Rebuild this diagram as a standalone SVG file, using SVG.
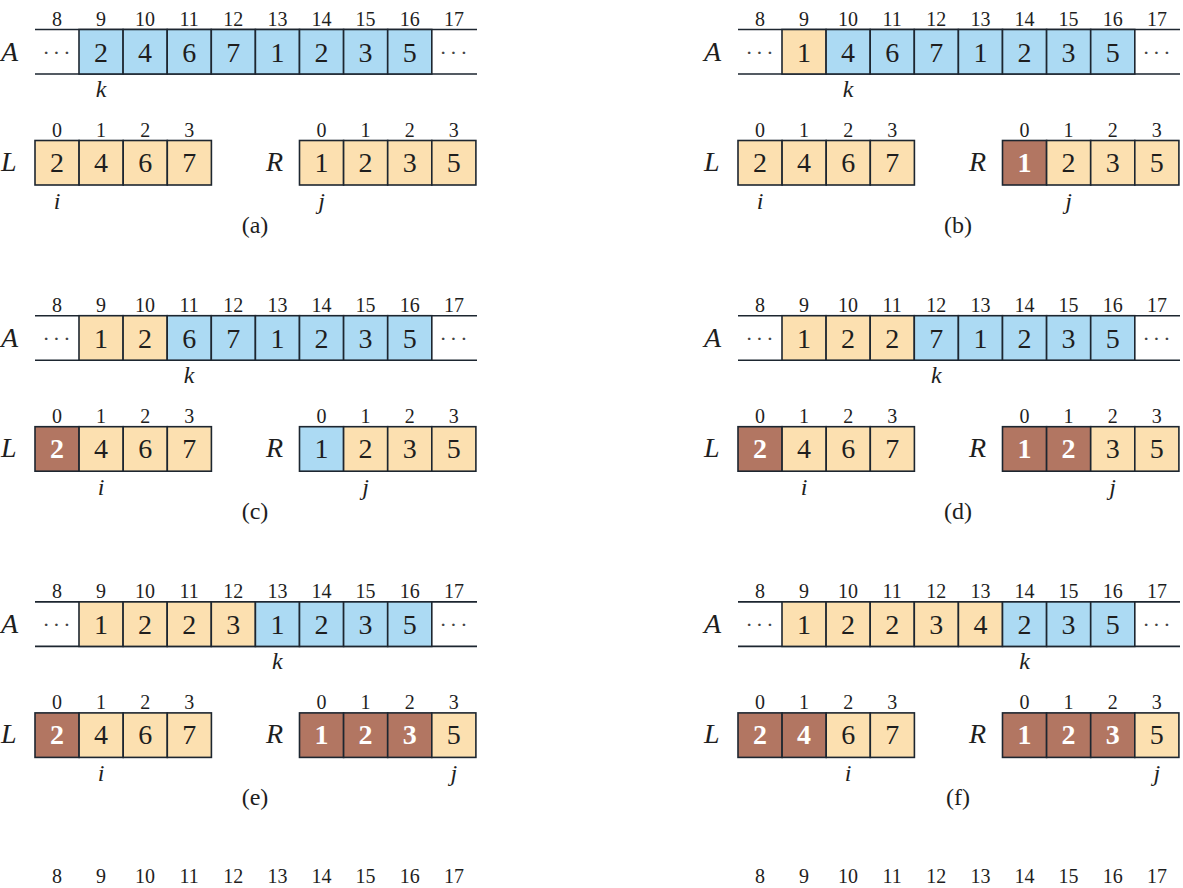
<svg xmlns="http://www.w3.org/2000/svg" width="1183" height="888" viewBox="0 0 1183 888">
<style>
.bg{fill:#ffffff}
.ln{stroke:#1d2630;stroke-width:1.6;fill:none}
.bl{fill:#acdaf3;stroke:#1d2630;stroke-width:1.6}
.tn{fill:#fce0b0;stroke:#1d2630;stroke-width:1.6}
.br{fill:#b27662;stroke:#1d2630;stroke-width:1.6}
text{font-family:"Liberation Serif","Times New Roman",serif;fill:#1e1e1e}
.ix{font-size:20px;text-anchor:middle}
.v{font-size:28px;text-anchor:middle}
.w{font-size:28px;text-anchor:middle;fill:#ffffff;font-weight:bold}
.nm{font-size:28px;font-style:italic}
.p{font-size:24px;font-style:italic;text-anchor:middle}
.cap{font-size:24px;text-anchor:middle}
.dots{font-size:22px;text-anchor:middle;letter-spacing:3px;fill:#444}
</style>
<rect class="bg" x="0" y="0" width="1183" height="888"/>

<!-- panel (a) -->
<g id="panel-a">
<g id="a-A">
<text class="nm" x="1" y="61">A</text>
<text class="ix" y="25.5"><tspan x="57">8</tspan><tspan x="101">9</tspan><tspan x="145.1">10</tspan><tspan x="189.2">11</tspan><tspan x="233.3">12</tspan><tspan x="277.4">13</tspan><tspan x="321.5">14</tspan><tspan x="365.6">15</tspan><tspan x="409.7">16</tspan><tspan x="454">17</tspan></text>
<path class="ln" d="M35 29.5H477M35 74H477"/>
<rect class="bl" x="79" y="29.5" width="44.1" height="44.5"/><rect class="bl" x="123.1" y="29.5" width="44.1" height="44.5"/><rect class="bl" x="167.2" y="29.5" width="44.1" height="44.5"/><rect class="bl" x="211.3" y="29.5" width="44.1" height="44.5"/><rect class="bl" x="255.4" y="29.5" width="44.1" height="44.5"/><rect class="bl" x="299.5" y="29.5" width="44.1" height="44.5"/><rect class="bl" x="343.6" y="29.5" width="44.1" height="44.5"/><rect class="bl" x="387.7" y="29.5" width="44.1" height="44.5"/>
<text class="dots" x="58" y="60">···</text><text class="dots" x="455" y="60">···</text>
<text class="v" y="61.5"><tspan x="101">2</tspan><tspan x="145.1">4</tspan><tspan x="189.2">6</tspan><tspan x="233.3">7</tspan><tspan x="277.4">1</tspan><tspan x="321.5">2</tspan><tspan x="365.6">3</tspan><tspan x="409.7">5</tspan></text>
<text class="p" x="101" y="97">k</text>
</g>
<g id="a-L">
<text class="nm" x="1" y="171">L</text>
<text class="ix" y="136.5"><tspan x="57">0</tspan><tspan x="101.1">1</tspan><tspan x="145.2">2</tspan><tspan x="189.3">3</tspan></text>
<rect class="tn" x="35" y="140.5" width="44.1" height="44.5"/><rect class="tn" x="79.1" y="140.5" width="44.1" height="44.5"/><rect class="tn" x="123.2" y="140.5" width="44.1" height="44.5"/><rect class="tn" x="167.3" y="140.5" width="44.1" height="44.5"/>
<text class="v" y="172"><tspan x="57">2</tspan><tspan x="101.1">4</tspan><tspan x="145.2">6</tspan><tspan x="189.3">7</tspan></text>
<text class="p" x="57" y="209">i</text>
</g>
<g id="a-R">
<text class="nm" x="266" y="171">R</text>
<text class="ix" y="136.5"><tspan x="321.5">0</tspan><tspan x="365.6">1</tspan><tspan x="409.7">2</tspan><tspan x="453.8">3</tspan></text>
<rect class="tn" x="299.5" y="140.5" width="44.1" height="44.5"/><rect class="tn" x="343.6" y="140.5" width="44.1" height="44.5"/><rect class="tn" x="387.7" y="140.5" width="44.1" height="44.5"/><rect class="tn" x="431.8" y="140.5" width="44.1" height="44.5"/>
<text class="v" y="172"><tspan x="321.5">1</tspan><tspan x="365.6">2</tspan><tspan x="409.7">3</tspan><tspan x="453.8">5</tspan></text>
<text class="p" x="321.5" y="209">j</text>
</g>
<text class="cap" x="255" y="233">(a)</text>
</g>

<!-- panel (b) -->
<g id="panel-b" transform="translate(703,0)">
<g id="b-A">
<text class="nm" x="1" y="61">A</text>
<text class="ix" y="25.5"><tspan x="57">8</tspan><tspan x="101">9</tspan><tspan x="145.1">10</tspan><tspan x="189.2">11</tspan><tspan x="233.3">12</tspan><tspan x="277.4">13</tspan><tspan x="321.5">14</tspan><tspan x="365.6">15</tspan><tspan x="409.7">16</tspan><tspan x="454">17</tspan></text>
<path class="ln" d="M35 29.5H477M35 74H477"/>
<rect class="tn" x="79" y="29.5" width="44.1" height="44.5"/><rect class="bl" x="123.1" y="29.5" width="44.1" height="44.5"/><rect class="bl" x="167.2" y="29.5" width="44.1" height="44.5"/><rect class="bl" x="211.3" y="29.5" width="44.1" height="44.5"/><rect class="bl" x="255.4" y="29.5" width="44.1" height="44.5"/><rect class="bl" x="299.5" y="29.5" width="44.1" height="44.5"/><rect class="bl" x="343.6" y="29.5" width="44.1" height="44.5"/><rect class="bl" x="387.7" y="29.5" width="44.1" height="44.5"/>
<text class="dots" x="58" y="60">···</text><text class="dots" x="455" y="60">···</text>
<text class="v" y="61.5"><tspan x="101">1</tspan><tspan x="145.1">4</tspan><tspan x="189.2">6</tspan><tspan x="233.3">7</tspan><tspan x="277.4">1</tspan><tspan x="321.5">2</tspan><tspan x="365.6">3</tspan><tspan x="409.7">5</tspan></text>
<text class="p" x="145.1" y="97">k</text>
</g>
<g id="b-L">
<text class="nm" x="1" y="171">L</text>
<text class="ix" y="136.5"><tspan x="57">0</tspan><tspan x="101.1">1</tspan><tspan x="145.2">2</tspan><tspan x="189.3">3</tspan></text>
<rect class="tn" x="35" y="140.5" width="44.1" height="44.5"/><rect class="tn" x="79.1" y="140.5" width="44.1" height="44.5"/><rect class="tn" x="123.2" y="140.5" width="44.1" height="44.5"/><rect class="tn" x="167.3" y="140.5" width="44.1" height="44.5"/>
<text class="v" y="172"><tspan x="57">2</tspan><tspan x="101.1">4</tspan><tspan x="145.2">6</tspan><tspan x="189.3">7</tspan></text>
<text class="p" x="57" y="209">i</text>
</g>
<g id="b-R">
<text class="nm" x="266" y="171">R</text>
<text class="ix" y="136.5"><tspan x="321.5">0</tspan><tspan x="365.6">1</tspan><tspan x="409.7">2</tspan><tspan x="453.8">3</tspan></text>
<rect class="br" x="299.5" y="140.5" width="44.1" height="44.5"/><rect class="tn" x="343.6" y="140.5" width="44.1" height="44.5"/><rect class="tn" x="387.7" y="140.5" width="44.1" height="44.5"/><rect class="tn" x="431.8" y="140.5" width="44.1" height="44.5"/>
<text class="w" x="321.5" y="172">1</text>
<text class="v" y="172"><tspan x="365.6">2</tspan><tspan x="409.7">3</tspan><tspan x="453.8">5</tspan></text>
<text class="p" x="365.6" y="209">j</text>
</g>
<text class="cap" x="255" y="233">(b)</text>
</g>

<!-- panel (c) -->
<g id="panel-c" transform="translate(0,286.2)">
<g id="c-A">
<text class="nm" x="1" y="61">A</text>
<text class="ix" y="25.5"><tspan x="57">8</tspan><tspan x="101">9</tspan><tspan x="145.1">10</tspan><tspan x="189.2">11</tspan><tspan x="233.3">12</tspan><tspan x="277.4">13</tspan><tspan x="321.5">14</tspan><tspan x="365.6">15</tspan><tspan x="409.7">16</tspan><tspan x="454">17</tspan></text>
<path class="ln" d="M35 29.5H477M35 74H477"/>
<rect class="tn" x="79" y="29.5" width="44.1" height="44.5"/><rect class="tn" x="123.1" y="29.5" width="44.1" height="44.5"/><rect class="bl" x="167.2" y="29.5" width="44.1" height="44.5"/><rect class="bl" x="211.3" y="29.5" width="44.1" height="44.5"/><rect class="bl" x="255.4" y="29.5" width="44.1" height="44.5"/><rect class="bl" x="299.5" y="29.5" width="44.1" height="44.5"/><rect class="bl" x="343.6" y="29.5" width="44.1" height="44.5"/><rect class="bl" x="387.7" y="29.5" width="44.1" height="44.5"/>
<text class="dots" x="58" y="60">···</text><text class="dots" x="455" y="60">···</text>
<text class="v" y="61.5"><tspan x="101">1</tspan><tspan x="145.1">2</tspan><tspan x="189.2">6</tspan><tspan x="233.3">7</tspan><tspan x="277.4">1</tspan><tspan x="321.5">2</tspan><tspan x="365.6">3</tspan><tspan x="409.7">5</tspan></text>
<text class="p" x="189.2" y="97">k</text>
</g>
<g id="c-L">
<text class="nm" x="1" y="171">L</text>
<text class="ix" y="136.5"><tspan x="57">0</tspan><tspan x="101.1">1</tspan><tspan x="145.2">2</tspan><tspan x="189.3">3</tspan></text>
<rect class="br" x="35" y="140.5" width="44.1" height="44.5"/><rect class="tn" x="79.1" y="140.5" width="44.1" height="44.5"/><rect class="tn" x="123.2" y="140.5" width="44.1" height="44.5"/><rect class="tn" x="167.3" y="140.5" width="44.1" height="44.5"/>
<text class="w" x="57" y="172">2</text>
<text class="v" y="172"><tspan x="101.1">4</tspan><tspan x="145.2">6</tspan><tspan x="189.3">7</tspan></text>
<text class="p" x="101.1" y="209">i</text>
</g>
<g id="c-R">
<text class="nm" x="266" y="171">R</text>
<text class="ix" y="136.5"><tspan x="321.5">0</tspan><tspan x="365.6">1</tspan><tspan x="409.7">2</tspan><tspan x="453.8">3</tspan></text>
<rect class="bl" x="299.5" y="140.5" width="44.1" height="44.5"/><rect class="tn" x="343.6" y="140.5" width="44.1" height="44.5"/><rect class="tn" x="387.7" y="140.5" width="44.1" height="44.5"/><rect class="tn" x="431.8" y="140.5" width="44.1" height="44.5"/>
<text class="v" y="172"><tspan x="321.5">1</tspan><tspan x="365.6">2</tspan><tspan x="409.7">3</tspan><tspan x="453.8">5</tspan></text>
<text class="p" x="365.6" y="209">j</text>
</g>
<text class="cap" x="255" y="233">(c)</text>
</g>

<!-- panel (d) -->
<g id="panel-d" transform="translate(703,286.2)">
<g id="d-A">
<text class="nm" x="1" y="61">A</text>
<text class="ix" y="25.5"><tspan x="57">8</tspan><tspan x="101">9</tspan><tspan x="145.1">10</tspan><tspan x="189.2">11</tspan><tspan x="233.3">12</tspan><tspan x="277.4">13</tspan><tspan x="321.5">14</tspan><tspan x="365.6">15</tspan><tspan x="409.7">16</tspan><tspan x="454">17</tspan></text>
<path class="ln" d="M35 29.5H477M35 74H477"/>
<rect class="tn" x="79" y="29.5" width="44.1" height="44.5"/><rect class="tn" x="123.1" y="29.5" width="44.1" height="44.5"/><rect class="tn" x="167.2" y="29.5" width="44.1" height="44.5"/><rect class="bl" x="211.3" y="29.5" width="44.1" height="44.5"/><rect class="bl" x="255.4" y="29.5" width="44.1" height="44.5"/><rect class="bl" x="299.5" y="29.5" width="44.1" height="44.5"/><rect class="bl" x="343.6" y="29.5" width="44.1" height="44.5"/><rect class="bl" x="387.7" y="29.5" width="44.1" height="44.5"/>
<text class="dots" x="58" y="60">···</text><text class="dots" x="455" y="60">···</text>
<text class="v" y="61.5"><tspan x="101">1</tspan><tspan x="145.1">2</tspan><tspan x="189.2">2</tspan><tspan x="233.3">7</tspan><tspan x="277.4">1</tspan><tspan x="321.5">2</tspan><tspan x="365.6">3</tspan><tspan x="409.7">5</tspan></text>
<text class="p" x="233.3" y="97">k</text>
</g>
<g id="d-L">
<text class="nm" x="1" y="171">L</text>
<text class="ix" y="136.5"><tspan x="57">0</tspan><tspan x="101.1">1</tspan><tspan x="145.2">2</tspan><tspan x="189.3">3</tspan></text>
<rect class="br" x="35" y="140.5" width="44.1" height="44.5"/><rect class="tn" x="79.1" y="140.5" width="44.1" height="44.5"/><rect class="tn" x="123.2" y="140.5" width="44.1" height="44.5"/><rect class="tn" x="167.3" y="140.5" width="44.1" height="44.5"/>
<text class="w" x="57" y="172">2</text>
<text class="v" y="172"><tspan x="101.1">4</tspan><tspan x="145.2">6</tspan><tspan x="189.3">7</tspan></text>
<text class="p" x="101.1" y="209">i</text>
</g>
<g id="d-R">
<text class="nm" x="266" y="171">R</text>
<text class="ix" y="136.5"><tspan x="321.5">0</tspan><tspan x="365.6">1</tspan><tspan x="409.7">2</tspan><tspan x="453.8">3</tspan></text>
<rect class="br" x="299.5" y="140.5" width="44.1" height="44.5"/><rect class="br" x="343.6" y="140.5" width="44.1" height="44.5"/><rect class="tn" x="387.7" y="140.5" width="44.1" height="44.5"/><rect class="tn" x="431.8" y="140.5" width="44.1" height="44.5"/>
<text class="w" y="172"><tspan x="321.5">1</tspan><tspan x="365.6">2</tspan></text>
<text class="v" y="172"><tspan x="409.7">3</tspan><tspan x="453.8">5</tspan></text>
<text class="p" x="409.7" y="209">j</text>
</g>
<text class="cap" x="255" y="233">(d)</text>
</g>

<!-- panel (e) -->
<g id="panel-e" transform="translate(0,572.4)">
<g id="e-A">
<text class="nm" x="1" y="61">A</text>
<text class="ix" y="25.5"><tspan x="57">8</tspan><tspan x="101">9</tspan><tspan x="145.1">10</tspan><tspan x="189.2">11</tspan><tspan x="233.3">12</tspan><tspan x="277.4">13</tspan><tspan x="321.5">14</tspan><tspan x="365.6">15</tspan><tspan x="409.7">16</tspan><tspan x="454">17</tspan></text>
<path class="ln" d="M35 29.5H477M35 74H477"/>
<rect class="tn" x="79" y="29.5" width="44.1" height="44.5"/><rect class="tn" x="123.1" y="29.5" width="44.1" height="44.5"/><rect class="tn" x="167.2" y="29.5" width="44.1" height="44.5"/><rect class="tn" x="211.3" y="29.5" width="44.1" height="44.5"/><rect class="bl" x="255.4" y="29.5" width="44.1" height="44.5"/><rect class="bl" x="299.5" y="29.5" width="44.1" height="44.5"/><rect class="bl" x="343.6" y="29.5" width="44.1" height="44.5"/><rect class="bl" x="387.7" y="29.5" width="44.1" height="44.5"/>
<text class="dots" x="58" y="60">···</text><text class="dots" x="455" y="60">···</text>
<text class="v" y="61.5"><tspan x="101">1</tspan><tspan x="145.1">2</tspan><tspan x="189.2">2</tspan><tspan x="233.3">3</tspan><tspan x="277.4">1</tspan><tspan x="321.5">2</tspan><tspan x="365.6">3</tspan><tspan x="409.7">5</tspan></text>
<text class="p" x="277.4" y="97">k</text>
</g>
<g id="e-L">
<text class="nm" x="1" y="171">L</text>
<text class="ix" y="136.5"><tspan x="57">0</tspan><tspan x="101.1">1</tspan><tspan x="145.2">2</tspan><tspan x="189.3">3</tspan></text>
<rect class="br" x="35" y="140.5" width="44.1" height="44.5"/><rect class="tn" x="79.1" y="140.5" width="44.1" height="44.5"/><rect class="tn" x="123.2" y="140.5" width="44.1" height="44.5"/><rect class="tn" x="167.3" y="140.5" width="44.1" height="44.5"/>
<text class="w" x="57" y="172">2</text>
<text class="v" y="172"><tspan x="101.1">4</tspan><tspan x="145.2">6</tspan><tspan x="189.3">7</tspan></text>
<text class="p" x="101.1" y="209">i</text>
</g>
<g id="e-R">
<text class="nm" x="266" y="171">R</text>
<text class="ix" y="136.5"><tspan x="321.5">0</tspan><tspan x="365.6">1</tspan><tspan x="409.7">2</tspan><tspan x="453.8">3</tspan></text>
<rect class="br" x="299.5" y="140.5" width="44.1" height="44.5"/><rect class="br" x="343.6" y="140.5" width="44.1" height="44.5"/><rect class="br" x="387.7" y="140.5" width="44.1" height="44.5"/><rect class="tn" x="431.8" y="140.5" width="44.1" height="44.5"/>
<text class="w" y="172"><tspan x="321.5">1</tspan><tspan x="365.6">2</tspan><tspan x="409.7">3</tspan></text>
<text class="v" x="453.8" y="172">5</text>
<text class="p" x="453.8" y="209">j</text>
</g>
<text class="cap" x="255" y="233">(e)</text>
</g>

<!-- panel (f) -->
<g id="panel-f" transform="translate(703,572.4)">
<g id="f-A">
<text class="nm" x="1" y="61">A</text>
<text class="ix" y="25.5"><tspan x="57">8</tspan><tspan x="101">9</tspan><tspan x="145.1">10</tspan><tspan x="189.2">11</tspan><tspan x="233.3">12</tspan><tspan x="277.4">13</tspan><tspan x="321.5">14</tspan><tspan x="365.6">15</tspan><tspan x="409.7">16</tspan><tspan x="454">17</tspan></text>
<path class="ln" d="M35 29.5H477M35 74H477"/>
<rect class="tn" x="79" y="29.5" width="44.1" height="44.5"/><rect class="tn" x="123.1" y="29.5" width="44.1" height="44.5"/><rect class="tn" x="167.2" y="29.5" width="44.1" height="44.5"/><rect class="tn" x="211.3" y="29.5" width="44.1" height="44.5"/><rect class="tn" x="255.4" y="29.5" width="44.1" height="44.5"/><rect class="bl" x="299.5" y="29.5" width="44.1" height="44.5"/><rect class="bl" x="343.6" y="29.5" width="44.1" height="44.5"/><rect class="bl" x="387.7" y="29.5" width="44.1" height="44.5"/>
<text class="dots" x="58" y="60">···</text><text class="dots" x="455" y="60">···</text>
<text class="v" y="61.5"><tspan x="101">1</tspan><tspan x="145.1">2</tspan><tspan x="189.2">2</tspan><tspan x="233.3">3</tspan><tspan x="277.4">4</tspan><tspan x="321.5">2</tspan><tspan x="365.6">3</tspan><tspan x="409.7">5</tspan></text>
<text class="p" x="321.5" y="97">k</text>
</g>
<g id="f-L">
<text class="nm" x="1" y="171">L</text>
<text class="ix" y="136.5"><tspan x="57">0</tspan><tspan x="101.1">1</tspan><tspan x="145.2">2</tspan><tspan x="189.3">3</tspan></text>
<rect class="br" x="35" y="140.5" width="44.1" height="44.5"/><rect class="br" x="79.1" y="140.5" width="44.1" height="44.5"/><rect class="tn" x="123.2" y="140.5" width="44.1" height="44.5"/><rect class="tn" x="167.3" y="140.5" width="44.1" height="44.5"/>
<text class="w" y="172"><tspan x="57">2</tspan><tspan x="101.1">4</tspan></text>
<text class="v" y="172"><tspan x="145.2">6</tspan><tspan x="189.3">7</tspan></text>
<text class="p" x="145.2" y="209">i</text>
</g>
<g id="f-R">
<text class="nm" x="266" y="171">R</text>
<text class="ix" y="136.5"><tspan x="321.5">0</tspan><tspan x="365.6">1</tspan><tspan x="409.7">2</tspan><tspan x="453.8">3</tspan></text>
<rect class="br" x="299.5" y="140.5" width="44.1" height="44.5"/><rect class="br" x="343.6" y="140.5" width="44.1" height="44.5"/><rect class="br" x="387.7" y="140.5" width="44.1" height="44.5"/><rect class="tn" x="431.8" y="140.5" width="44.1" height="44.5"/>
<text class="w" y="172"><tspan x="321.5">1</tspan><tspan x="365.6">2</tspan><tspan x="409.7">3</tspan></text>
<text class="v" x="453.8" y="172">5</text>
<text class="p" x="453.8" y="209">j</text>
</g>
<text class="cap" x="255" y="233">(f)</text>
</g>

<!-- panels (g),(h): only index row visible -->
<g id="panel-g" transform="translate(0,857.5)">
<text class="ix" y="25.5"><tspan x="57">8</tspan><tspan x="101">9</tspan><tspan x="145.1">10</tspan><tspan x="189.2">11</tspan><tspan x="233.3">12</tspan><tspan x="277.4">13</tspan><tspan x="321.5">14</tspan><tspan x="365.6">15</tspan><tspan x="409.7">16</tspan><tspan x="454">17</tspan></text>
</g>
<g id="panel-h" transform="translate(703,857.5)">
<text class="ix" y="25.5"><tspan x="57">8</tspan><tspan x="101">9</tspan><tspan x="145.1">10</tspan><tspan x="189.2">11</tspan><tspan x="233.3">12</tspan><tspan x="277.4">13</tspan><tspan x="321.5">14</tspan><tspan x="365.6">15</tspan><tspan x="409.7">16</tspan><tspan x="454">17</tspan></text>
</g>
<g id="connectors"></g>
</svg>
